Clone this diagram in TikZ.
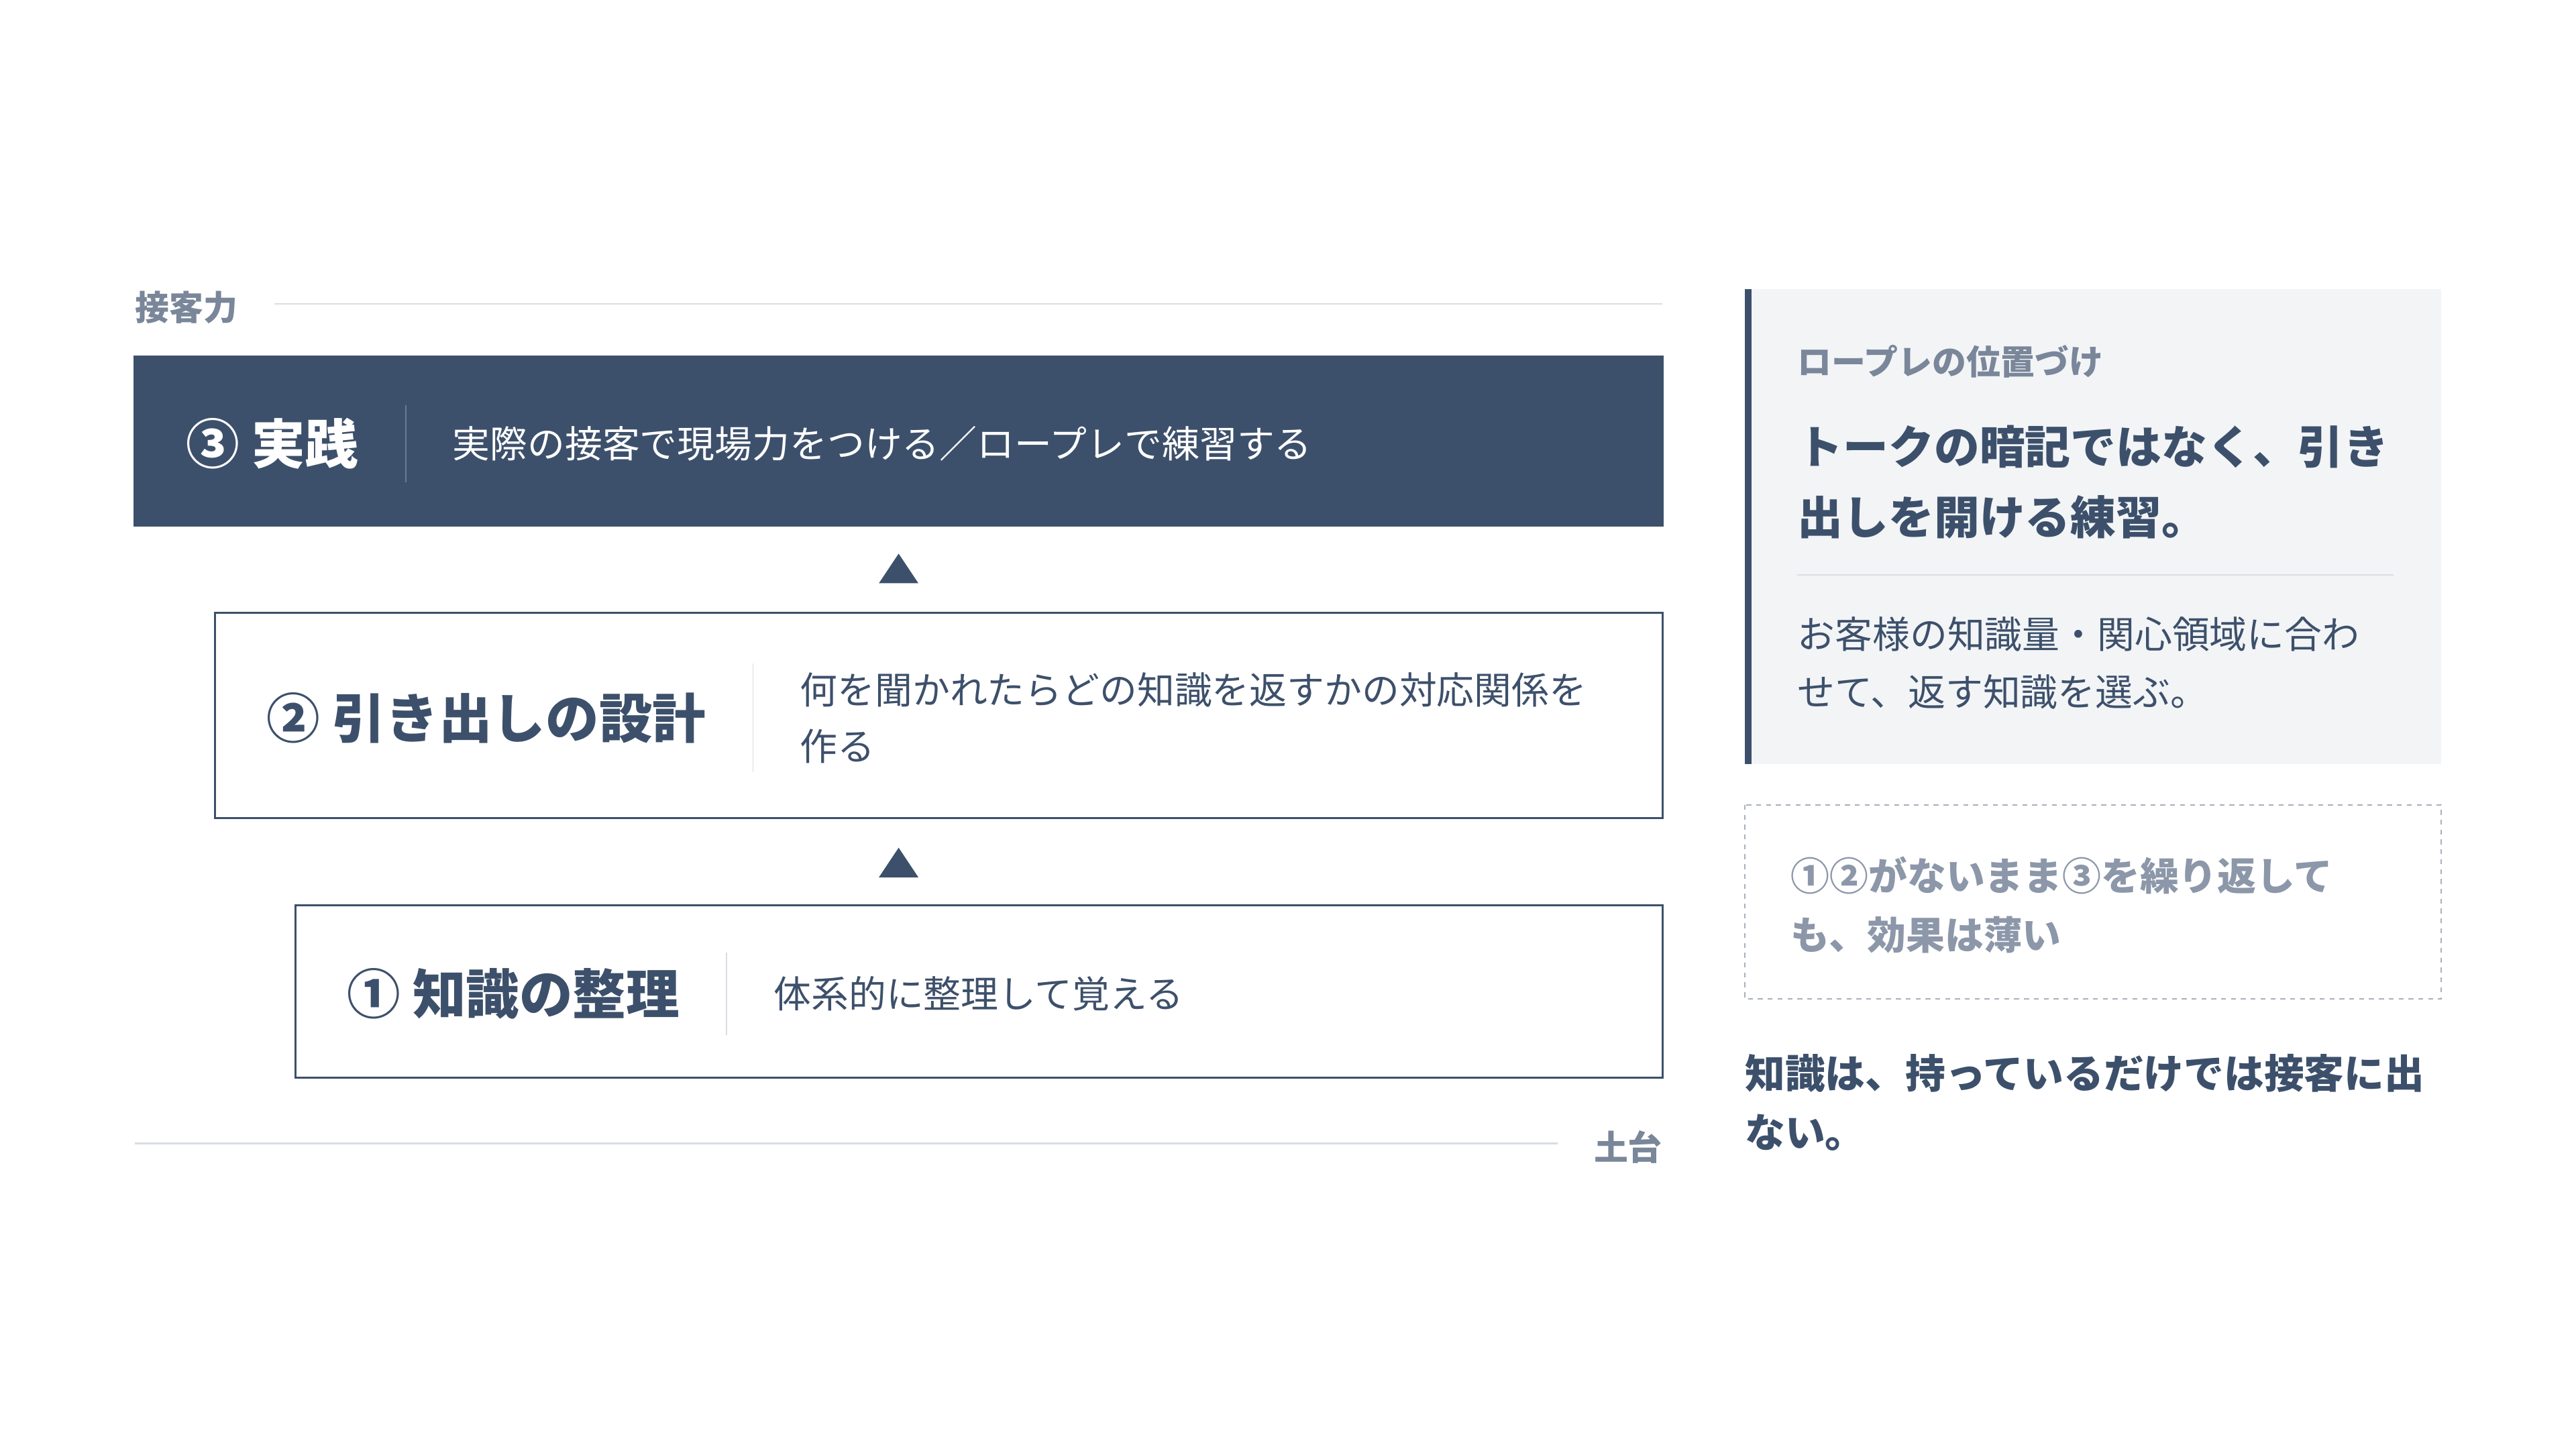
\documentclass[tikz,border=0pt]{standalone}
\usepackage{fontspec}
\setmainfont{Noto Sans CJK JP}
\usepackage{tikz}
\usetikzlibrary{positioning, calc}

\definecolor{navy}{HTML}{3D506B}
\definecolor{slate}{HTML}{7A8699}
\definecolor{mist}{HTML}{F2F4F6}
\definecolor{rulec}{HTML}{D9DDE3}
\definecolor{ash}{HTML}{8C97A9}
\definecolor{dashc}{HTML}{A7B0BE}
\definecolor{sepdark}{HTML}{6A7A92}

\tikzset{
  layer/.style={draw=navy, line width=1.1pt, fill=white, inner sep=0pt},
  ttl/.style={anchor=west, inner sep=0pt, text=navy, font=\fontsize{32.5}{40}\selectfont\bfseries},
  desc/.style={right=57pt of #1, anchor=west, inner sep=0pt, text=navy, align=left,
    font=\fontsize{22.8}{34}\selectfont},
  tag/.style={inner sep=0pt, text=slate, font=\fontsize{20.8}{26}\selectfont\bfseries},
  sepl/.style={line width=0.8pt}
}

\begin{document}
\begin{tikzpicture}[x=1pt, y=-1pt]
  \useasboundingbox (0,0) rectangle (1568,882);

  % top label
  \node[tag, anchor=west] (top) at (82,187) {接客力};
  \draw[rulec, line width=1pt] (167,185) -- (1012,185);

  % layers
  \node[layer, fill=navy, minimum width=930pt, minimum height=103pt] (l3) at (547,268.5) {};
  \node[layer, minimum width=881pt, minimum height=125pt] (l2) at (571.5,435.5) {};
  \node[layer, minimum width=832pt, minimum height=105pt] (l1) at (596,603.5) {};

  \node[ttl, text=white] (t3) at (113,270) {③ 実践};
  \node[desc=t3, text=white] (d3) {実際の接客で現場力をつける／ロープレで練習する};
  \node[ttl] (t2) at (162,437) {② 引き出しの設計};
  \node[desc=t2] (d2) {何を聞かれたらどの知識を返すかの対応関係を\\作る};
  \node[ttl] (t1) at (211,605) {① 知識の整理};
  \node[desc=t1] (d1) {体系的に整理して覚える};

  \path (t3.east) -- (d3.west) coordinate[pos=.5] (s3);
  \path (t2.east) -- (d2.west) coordinate[pos=.5] (s2);
  \path (t1.east) -- (d1.west) coordinate[pos=.5] (s1);
  \draw[sepl, sepdark] ([yshift=23.5pt]s3) -- ([yshift=-23.5pt]s3);
  \draw[sepl, rulec] ([yshift=33pt]s2) -- ([yshift=-33pt]s2);
  \draw[sepl, rulec] ([yshift=25pt]s1) -- ([yshift=-25pt]s1);

  % arrows between layers
  \fill[navy] (535,355) -- (559,355) -- (547,337) -- cycle;
  \fill[navy] (535,534) -- (559,534) -- (547,516) -- cycle;

  % bottom label
  \draw[rulec, line width=1pt] (82,696) -- (948,696);
  \node[tag, anchor=east] (base) at (1012,698) {土台};

  % side panel
  \fill[mist] (1062,176) rectangle (1486,465);
  \fill[navy] (1062,176) rectangle (1066,465);
  \node[tag, anchor=west] (ptag) at (1094,220) {ロープレの位置づけ};
  \node[anchor=west, inner sep=0pt, text=navy, align=left,
    font=\fontsize{27.7}{43}\selectfont\bfseries] (phead) at (1094,293.5)
    {トークの暗記ではなく、引き\\出しを開ける練習。};
  \draw[rulec, line width=1pt] (1094,350) -- (1457,350);
  \node[anchor=west, inner sep=0pt, text=navy, align=left,
    font=\fontsize{22.8}{35}\selectfont] (pbody) at (1094,403.5)
    {お客様の知識量・関心領域に合わ\\せて、返す知識を選ぶ。};

  % note box
  \draw[dashc, line width=1pt, dash pattern=on 3pt off 3pt] (1062,490) rectangle (1486,608);
  \node[anchor=west, inner sep=0pt, text=ash, align=left,
    font=\fontsize{23.6}{36}\selectfont\bfseries] (note) at (1090,551)
    {①②がないまま③を繰り返して\\も、効果は薄い};

  % closing line
  \node[anchor=west, inner sep=0pt, text=navy, align=left,
    font=\fontsize{24.4}{36}\selectfont\bfseries] (close) at (1062,671)
    {知識は、持っているだけでは接客に出\\ない。};
\end{tikzpicture}
\end{document}
